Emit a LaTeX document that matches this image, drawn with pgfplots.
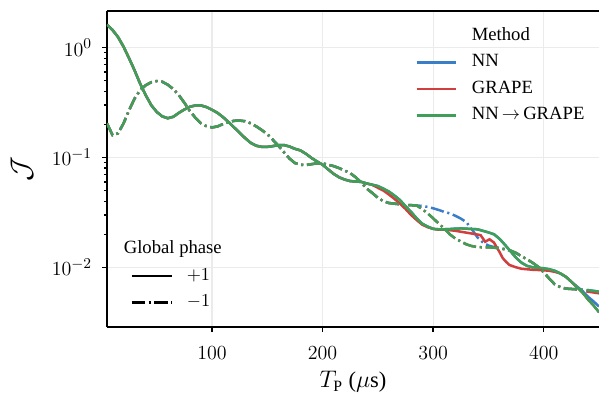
\documentclass[border=0pt]{standalone}
\usepackage{pgfplots}
\pgfplotsset{compat=1.18}
\usepackage{pgfplotstable}
\usepackage{fontspec}
\setmainfont{Liberation Serif}
\definecolor{cblue}{RGB}{58,126,200}
\definecolor{cred}{RGB}{208,62,62}
\definecolor{cgreen}{RGB}{62,160,88}
\tikzset{dashdotmpl/.style={dash pattern=on 8pt off 2.2pt on 1.3pt off 2.2pt}}
\begin{document}
\begin{tikzpicture}
\pgfplotstableread{
x gs gd bs bd rd
5 1.62 0.205 1.62 0.205 0.205
10 1.45 0.160 1.45 0.160 0.160
15 1.25 0.166 1.25 0.166 0.166
20 1.02 0.205 1.02 0.205 0.205
25 0.80 0.27 0.80 0.27 0.27
30 0.62 0.345 0.62 0.345 0.345
35 0.47 0.41 0.47 0.41 0.41
40 0.37 0.455 0.37 0.455 0.455
45 0.30 0.485 0.30 0.485 0.485
50 0.26 0.497 0.26 0.497 0.497
55 0.237 0.49 0.237 0.49 0.49
60 0.228 0.46 0.228 0.46 0.46
65 0.235 0.42 0.235 0.42 0.42
70 0.255 0.37 0.255 0.37 0.37
75 0.274 0.315 0.274 0.315 0.315
80 0.29 0.265 0.29 0.265 0.265
85 0.298 0.23 0.298 0.23 0.23
90 0.298 0.205 0.298 0.205 0.205
95 0.288 0.193 0.288 0.193 0.193
100 0.272 0.188 0.272 0.188 0.188
105 0.255 0.192 0.255 0.192 0.192
110 0.233 0.202 0.233 0.202 0.202
115 0.21 0.21 0.21 0.21 0.21
120 0.188 0.216 0.188 0.216 0.216
125 0.168 0.217 0.168 0.217 0.217
130 0.15 0.214 0.15 0.214 0.214
135 0.136 0.205 0.136 0.205 0.205
140 0.128 0.192 0.128 0.192 0.192
145 0.125 0.178 0.125 0.178 0.178
150 0.125 0.163 0.125 0.163 0.163
155 0.127 0.145 0.127 0.145 0.145
160 0.13 0.128 0.13 0.128 0.128
165 0.13 0.112 0.13 0.112 0.112
170 0.126 0.098 0.126 0.098 0.098
175 0.12 0.089 0.12 0.089 0.089
180 0.116 0.086 0.116 0.086 0.086
185 0.108 0.0855 0.108 0.0855 0.0855
190 0.099 0.087 0.099 0.087 0.087
195 0.092 0.0885 0.092 0.0885 0.0885
200 0.086 0.0885 0.086 0.0885 0.0885
205 0.078 0.086 0.078 0.086 0.086
210 0.071 0.0835 0.071 0.0835 0.0835
215 0.066 0.08 0.066 0.08 0.08
220 0.063 0.076 0.063 0.076 0.076
225 0.061 0.072 0.061 0.072 0.072
230 0.0605 0.066 0.0605 0.066 0.066
235 0.060 0.059 0.060 0.059 0.059
240 0.058 0.052 0.058 0.052 0.052
245 0.0565 0.0475 0.0565 0.0475 0.0475
250 0.055 0.043 0.055 0.043 0.043
255 0.052 0.040 0.052 0.040 0.040
260 0.049 0.0385 0.049 0.0385 0.0385
265 0.045 0.038 0.045 0.038 0.038
270 0.041 0.0375 0.041 0.0375 0.0375
275 0.036 0.037 0.036 0.037 0.037
280 0.032 0.0368 0.032 0.0368 0.0368
285 0.028 0.0366 0.028 0.0366 0.0366
290 0.025 0.034 0.025 0.0362 0.034
295 0.0235 0.031 0.0235 0.0355 0.031
300 0.0224 0.028 0.0224 0.0345 0.028
305 0.0222 0.025 0.0222 0.0333 0.025
310 0.0222 0.0226 0.0222 0.032 0.0226
315 0.0223 0.020 0.0223 0.031 0.020
320 0.0225 0.0183 0.0225 0.0295 0.0183
325 0.0226 0.0172 0.0226 0.0278 0.0172
330 0.0225 0.0162 0.0225 0.0258 0.0162
335 0.0223 0.0156 0.0223 0.0222 0.0156
340 0.0222 0.0153 0.0222 0.0188 0.0153
345 0.0215 0.0152 0.0215 0.0168 0.0152
350 0.0208 0.0152 0.0208 0.0158 0.0152
355 0.0200 0.0151 0.0200 0.0153 0.0151
360 0.0182 0.0149 0.0182 0.0150 0.0149
365 0.0160 0.0146 0.0160 0.0146 0.0146
370 0.0140 0.0142 0.0140 0.0142 0.0142
375 0.0122 0.0135 0.0122 0.0135 0.0135
380 0.0110 0.0126 0.0110 0.0126 0.0126
385 0.0103 0.0118 0.0103 0.0118 0.0118
390 0.0100 0.0110 0.0100 0.0110 0.0110
395 0.0099 0.0101 0.0099 0.0101 0.0101
400 0.0098 0.0090 0.0098 0.0090 0.0090
405 0.0096 0.0079 0.0096 0.0079 0.0079
410 0.0093 0.0070 0.0093 0.0070 0.0070
415 0.0088 0.0066 0.0088 0.0066 0.0066
420 0.0082 0.0064 0.0082 0.0064 0.0064
425 0.0074 0.00635 0.0074 0.00635 0.00635
430 0.0066 0.0063 0.0067 0.0063 0.0063
435 0.0059 0.00625 0.0061 0.00625 0.00615
440 0.0051 0.0062 0.0054 0.0062 0.0060
445 0.0045 0.0061 0.0049 0.0061 0.0059
450 0.0039 0.0060 0.0044 0.0060 0.0058
}\maintab
\pgfplotstableread{
x rs
5 1.62
10 1.45
15 1.25
20 1.02
25 0.80
30 0.62
35 0.47
40 0.37
45 0.30
50 0.26
55 0.237
60 0.228
65 0.235
70 0.255
75 0.274
80 0.29
85 0.298
90 0.298
95 0.288
100 0.272
105 0.255
110 0.233
115 0.21
120 0.188
125 0.168
130 0.15
135 0.136
140 0.128
145 0.125
150 0.125
155 0.127
160 0.13
165 0.13
170 0.126
175 0.12
180 0.116
185 0.108
190 0.099
195 0.092
200 0.086
205 0.078
210 0.071
215 0.066
220 0.063
225 0.061
230 0.0605
235 0.060
240 0.058
245 0.0563
250 0.053
255 0.050
260 0.046
265 0.042
270 0.038
275 0.034
280 0.030
285 0.027
290 0.0245
295 0.0232
300 0.0224
305 0.0220
310 0.0220
315 0.0218
320 0.0215
325 0.0211
330 0.0207
335 0.0203
340 0.0199
343 0.0196
347 0.0171
351 0.0180
355 0.0168
357 0.0155
360 0.0138
363 0.0121
366 0.0112
369 0.0105
375 0.0100
380 0.0097
390 0.0095
400 0.0094
405 0.0093
410 0.0091
415 0.0088
420 0.0082
425 0.0074
430 0.0066
435 0.0059
440 0.0051
445 0.0045
450 0.0039
}\redtab
\begin{axis}[name=main,
  scale only axis, width=295.2pt, height=189.6pt,
  xmin=5, xmax=450, ymode=log, ymin=0.00286, ymax=2.16,
  xtick={100,200,300,400}, ytick={0.01,0.1,1},
  separate axis lines, axis x line*=box, axis y line*=left,
  tick align=outside, tick pos=left,
  major tick length=3pt, minor tick length=1.8pt,
  every tick/.style={black, line width=0.8pt},
  axis line style={line width=0.9pt, -},
  grid=major, major grid style={color=black!8, line width=0.7pt},
  xticklabel style={font=\fontsize{12.2}{14}\selectfont, yshift=-5pt},
  yticklabel style={font=\fontsize{12.2}{14}\selectfont, xshift=-2.5pt},
  xlabel={$T_{\mathrm{P}}$ ($\mu$s)},
  xlabel style={font=\fontsize{13.5}{15}\selectfont, at={(axis description cs:0.5,-0.174)}, anchor=center},
  ylabel={$\mathcal{J}$},
  ylabel style={font=\fontsize{18}{20}\selectfont, at={(axis description cs:-0.173,0.5)}, anchor=center},
  every axis plot/.append style={line width=1.5pt},
]
\addplot[cblue, forget plot] table[x=x, y=bs] {\maintab};
\addplot[cblue, dashdotmpl, forget plot] table[x=x, y=bd] {\maintab};
\addplot[cred, forget plot] table[x=x, y=rs] {\redtab};
\addplot[cred, dashdotmpl, forget plot] table[x=x, y=rd] {\maintab};
\addplot[cgreen, dashdotmpl, forget plot] table[x=x, y=gd] {\maintab};
\addplot[cgreen, forget plot] table[x=x, y=gs] {\maintab};
\end{axis}
% Method legend
\begin{axis}[at={(main.south west)}, anchor=south west,
  scale only axis, width=295.2pt, height=189.6pt, hide axis,
  xmin=0, xmax=1, ymin=0, ymax=1,
  legend cell align=left,
  legend image code/.code={\draw[#1] (0pt,0pt) -- (23.4pt,0pt);},
  legend style={at={(0.626,0.947)}, anchor=north west, draw=none, fill=none,
    inner sep=0pt, column sep=9pt, row sep=5.8pt,
    nodes={inner sep=0pt, text height=7.5pt, text depth=2.5pt},
    font=\fontsize{11.2}{13}\selectfont},
]
\addlegendimage{empty legend}
\addlegendentry{Method}
\addlegendimage{cblue, line width=1.5pt}
\addlegendentry{NN}
\addlegendimage{cred, line width=1.5pt}
\addlegendentry{GRAPE}
\addlegendimage{cgreen, line width=1.5pt}
\addlegendentry{NN\,$\rightarrow$\,GRAPE}
\end{axis}
% Global phase legend
\begin{axis}[at={(main.south west)}, anchor=south west,
  scale only axis, width=295.2pt, height=189.6pt, hide axis,
  xmin=0, xmax=1, ymin=0, ymax=1,
  legend cell align=left,
  legend image code/.code={\draw[#1] (0pt,0pt) -- (24pt,0pt);},
  legend style={at={(0.0467,0.272)}, anchor=north west, draw=none, fill=none,
    inner sep=0pt, column sep=8.4pt, row sep=5.8pt,
    nodes={inner sep=0pt, text height=7.5pt, text depth=2.5pt},
    font=\fontsize{11.2}{13}\selectfont},
]
\addlegendimage{empty legend}
\addlegendentry{\hspace*{-37.8pt}Global phase}
\addlegendimage{black, line width=1.5pt}
\addlegendentry{$+1$}
\addlegendimage{black, line width=1.5pt, dashdotmpl}
\addlegendentry{$-1$}
\end{axis}
\pgfresetboundingbox
\path ([shift={(-64.2pt,-43.2pt)}]main.south west) rectangle ([shift={(0pt,6.6pt)}]main.north east);
\end{tikzpicture}
\end{document}
